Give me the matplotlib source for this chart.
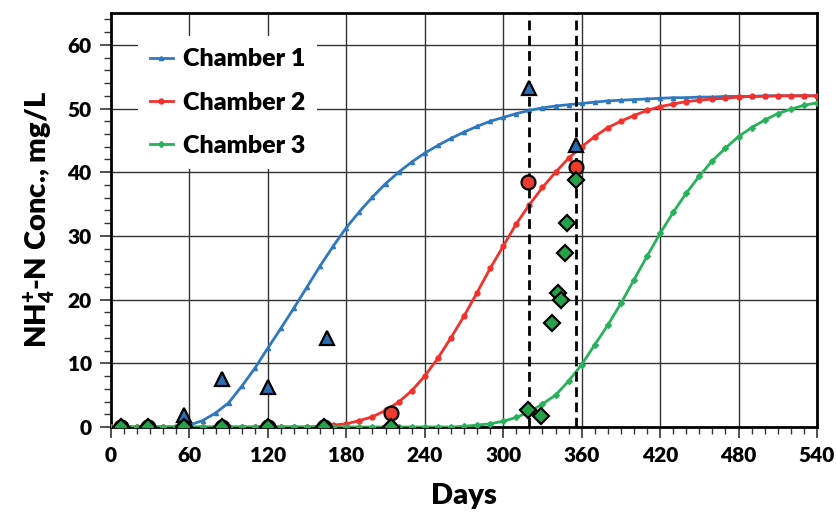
"""
NH4+-N concentration in three chambers: fitted curves and measured points
"""

import matplotlib
matplotlib.use('Agg')
import matplotlib.pyplot as plt
from matplotlib.ticker import MultipleLocator

#---------------------------------------------------------------------------------------------------
# Data
#---------------------------------------------------------------------------------------------------

# Fitted curves, one value every 10 days from day 0 to day 540
curve_days = list(range(0, 550, 10))
curve_ch1 = [0.0, 0.0, 0.0, 0.0, 0.0, 0.0, 0.3, 1.0, 2.2, 3.8,
             6.4, 9.2, 12.4, 15.5, 18.7, 22.0, 25.3, 28.4, 31.3, 33.8,
             36.1, 38.2, 40.0, 41.6, 43.0, 44.2, 45.3, 46.3, 47.2, 48.0,
             48.6, 49.2, 49.7, 50.1, 50.4, 50.6, 50.8, 51.0, 51.2, 51.3,
             51.4, 51.5, 51.6, 51.7, 51.7, 51.8, 51.8, 51.9, 51.9, 51.9,
             52.0, 52.0, 52.0, 52.0, 52.0]
curve_ch2 = [0.0, 0.0, 0.0, 0.0, 0.0, 0.0, 0.0, 0.0, 0.0, 0.0,
             0.0, 0.0, 0.0, 0.0, 0.0, 0.0, 0.1, 0.3, 0.5, 1.0,
             1.6, 2.6, 3.9, 5.7, 8.0, 10.8, 14.0, 17.4, 21.1, 24.9,
             28.4, 31.9, 34.9, 37.6, 40.0, 42.2, 44.0, 45.6, 47.0, 48.0,
             48.9, 49.7, 50.3, 50.7, 51.1, 51.3, 51.5, 51.6, 51.8, 51.9,
             51.9, 52.0, 52.0, 52.0, 52.0]
curve_ch3 = [0.0, 0.0, 0.0, 0.0, 0.0, 0.0, 0.0, 0.0, 0.0, 0.0,
             0.0, 0.0, 0.0, 0.0, 0.0, 0.0, 0.0, 0.0, 0.0, 0.0,
             0.0, 0.0, 0.0, 0.0, 0.0, 0.0, 0.0, 0.1, 0.3, 0.5,
             0.9, 1.5, 2.4, 3.6, 5.0, 7.2, 9.8, 12.9, 16.0, 19.4,
             23.1, 26.8, 30.4, 33.7, 36.7, 39.4, 41.8, 43.8, 45.6, 47.0,
             48.2, 49.2, 49.9, 50.5, 50.9]

# Measured points
obs1_days = [8, 28, 56, 85, 120, 165, 320, 356]
obs1_vals = [0.0, 0.0, 1.9, 7.6, 6.3, 13.9, 53.2, 44.3]
obs2_days = [8, 28, 56, 85, 120, 163, 214, 319, 356]
obs2_vals = [0.0, 0.0, 0.0, 0.0, 0.0, 0.0, 2.2, 38.4, 40.8]
obs3_days = [8, 28, 56, 85, 120, 163, 214, 319, 329, 337, 342, 344, 347, 349, 356]
obs3_vals = [0.0, 0.0, 0.0, 0.0, 0.0, 0.0, 0.0, 2.6, 1.7, 16.3, 21.0, 20.0, 27.3, 32.1, 38.8]

# Sampling dates marked by dashed lines
vline_days = [320, 356]

labels = ['Chamber 1', 'Chamber 2', 'Chamber 3']
line_colors = ['#2F78C0', '#F2302C', '#27B15A']
pt_colors = ['#2A6EB4', '#EE3B2E', '#25A14A']

#---------------------------------------------------------------------------------------------------
# Make plot
#---------------------------------------------------------------------------------------------------

wt = 'heavy'
plt.rcParams['font.family'] = ['Lato', 'DejaVu Sans']
plt.rcParams['font.weight'] = wt
plt.rcParams['mathtext.fontset'] = 'custom'
plt.rcParams['mathtext.rm'] = 'Lato:' + wt
plt.rcParams['mathtext.bf'] = 'Lato:' + wt
plt.rcParams['mathtext.it'] = 'Lato:' + wt

fig = plt.figure(figsize=(8.37, 5.15), dpi=100)
ax = fig.add_axes([0.1326, 0.1709, 0.8435, 0.8039])

ax.grid(which='major', color='#333333', lw=1.0, zorder=0)

curves = [curve_ch1, curve_ch2, curve_ch3]
curve_mk = ['^', 'o', 'D']
curve_ms = [3.0, 3.5, 3.0]
for vals, c, mk, ms, lab in zip(curves, line_colors, curve_mk, curve_ms, labels):
    ax.plot(curve_days, vals, '-', c=c, lw=2.0, marker=mk, ms=ms, label=lab, zorder=3)

for d in vline_days:
    ax.axvline(d, color='k', lw=2.0, ls=(0, (3.5, 2)), zorder=4)

ax.plot(obs1_days, obs1_vals, ls='none', marker='^', ms=10, mfc=pt_colors[0], mec='k',
        mew=1.6, zorder=5)
ax.plot(obs2_days, obs2_vals, ls='none', marker='o', ms=10, mfc=pt_colors[1], mec='k',
        mew=1.6, zorder=6)
ax.plot(obs3_days, obs3_vals, ls='none', marker='D', ms=8, mfc=pt_colors[2], mec='k',
        mew=1.6, zorder=7)

ax.set_xlim(0, 540)
ax.set_ylim(0, 65)
ax.xaxis.set_major_locator(MultipleLocator(60))
ax.xaxis.set_minor_locator(MultipleLocator(10))
ax.yaxis.set_major_locator(MultipleLocator(10))
ax.yaxis.set_minor_locator(MultipleLocator(2))
ax.tick_params(which='major', direction='out', length=8, width=1.2, labelsize=15, color='#333333')
ax.tick_params(which='minor', direction='out', length=5, width=1.0, color='#333333')
ax.tick_params(axis='x', pad=6)
ax.tick_params(axis='y', pad=6)
for s in ax.spines.values():
    s.set_linewidth(2.0)
    s.set_color('k')

ax.set_xlabel('Days', fontsize=21, fontweight=wt, labelpad=13)
ax.set_ylabel(r'NH$_{4}^{+}$-N Conc., mg/L', fontsize=21, fontweight=wt, labelpad=6)

leg = ax.legend(loc='upper left', bbox_to_anchor=(0.02, 0.975), fontsize=18, frameon=True,
                framealpha=1, edgecolor='none', facecolor='white', handlelength=0.9,
                handletextpad=0.4, labelspacing=0.85, borderpad=0.5, fancybox=False)
leg.set_zorder(2)

plt.savefig('out.png', dpi=100)
